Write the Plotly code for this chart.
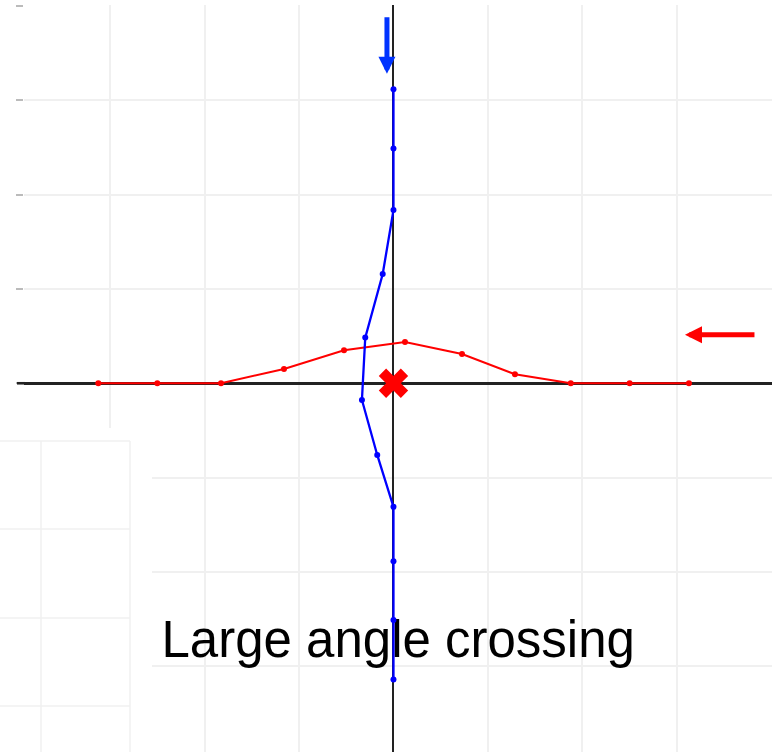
import plotly.graph_objects as go

# Track of the eastern vessel (red), moving right to left
red_x = [-3.127, -2.502, -1.827, -1.16, -0.524, 0.122, 0.726, 1.287, 1.878, 2.502, 3.13]
red_y = [0, 0, 0, 0.151, 0.35, 0.437, 0.31, 0.095, 0, 0, 0]

# Track of the northern vessel (blue), moving top to bottom
blue_x = [0, 0, 0, -0.114, -0.299, -0.334, -0.172, 0, 0, 0, 0]
blue_y = [3.118, 2.49, 1.836, 1.158, 0.484, -0.177, -0.76, -1.31, -1.886, -2.51, -3.14]

# Crossing point
cross_x = [0]
cross_y = [0]

title_text = "Large angle crossing"

W, H = 780, 752
ML, MR, MT, MB = 24, 8, 5, 0
PW, PH = W - ML - MR, H - MT - MB


def px(xp):
    return (xp - ML) / PW


def py(yp):
    return (H - MB - yp) / PH


GRID = "#f0f0f0"

fig = go.Figure()

fig.add_trace(go.Scatter(
    x=[0.05], y=[-2.77], mode="text", text=[title_text],
    textfont=dict(family="Liberation Sans, Arial", size=51, color="black"),
    textposition="middle center", hoverinfo="skip", showlegend=False,
))

fig.add_trace(go.Scatter(
    x=red_x, y=red_y, mode="lines+markers",
    line=dict(color="#ff0000", width=2),
    marker=dict(color="#ff0000", size=6),
    showlegend=False,
))
fig.add_trace(go.Scatter(
    x=blue_x, y=blue_y, mode="lines+markers",
    line=dict(color="#0000ff", width=2.3),
    marker=dict(color="#0000ff", size=6),
    showlegend=False,
))
fig.add_trace(go.Scatter(
    x=cross_x, y=cross_y, mode="markers",
    marker=dict(symbol="x", color="#ff0000", size=26, line=dict(width=0)),
    showlegend=False,
))

# Direction arrows
fig.add_annotation(
    x=-0.069, y=3.28, xref="x", yref="y", ax=0, ay=-58,
    showarrow=True, arrowhead=2, arrowwidth=5, arrowsize=0.68,
    arrowcolor="#0033ff", text="", standoff=0,
)
fig.add_annotation(
    x=3.088, y=0.514, xref="x", yref="y", ax=71, ay=0,
    showarrow=True, arrowhead=2, arrowwidth=5, arrowsize=0.68,
    arrowcolor="#ff0000", text="", standoff=0,
)

shapes = []
# Left extension of the horizontal axis line
shapes.append(dict(type="line", xref="paper", yref="y", x0=px(17), x1=px(25), y0=0, y1=0,
                   line=dict(color="#222222", width=2.6), layer="above"))

# White panel in the lower-left corner with its own grid
shapes.append(dict(type="rect", xref="paper", yref="paper",
                   x0=px(-2), x1=px(152), y0=py(428), y1=py(760),
                   fillcolor="white", line=dict(width=0), layer="above"))
for yp in [441, 529, 618, 706]:
    shapes.append(dict(type="line", xref="paper", yref="paper",
                       x0=px(-2), x1=px(130), y0=py(yp), y1=py(yp),
                       line=dict(color=GRID, width=1.5), layer="above"))
for xp in [41, 130]:
    shapes.append(dict(type="line", xref="paper", yref="paper",
                       x0=px(xp), x1=px(xp), y0=py(441), y1=py(760),
                       line=dict(color=GRID, width=1.5), layer="above"))

fig.update_layout(
    width=W, height=H,
    margin=dict(l=ML, r=MR, t=MT, b=MB, pad=0),
    paper_bgcolor="white", plot_bgcolor="white",
    shapes=shapes,
    xaxis=dict(range=[-3.914, 4.01], dtick=1, tick0=0, showgrid=True,
               gridcolor=GRID, gridwidth=1.5,
               zeroline=True, zerolinecolor="#222222", zerolinewidth=2.4,
               showticklabels=False, ticks="", showline=False),
    yaxis=dict(range=[-3.909, 4.01], dtick=1, tick0=0, showgrid=True,
               gridcolor=GRID, gridwidth=1.5,
               zeroline=True, zerolinecolor="#222222", zerolinewidth=2.6,
               showticklabels=False, ticks="outside", ticklen=7,
               tickcolor="#bbbbbb", tickwidth=2, showline=False),
)

fig.write_html("out.html")
